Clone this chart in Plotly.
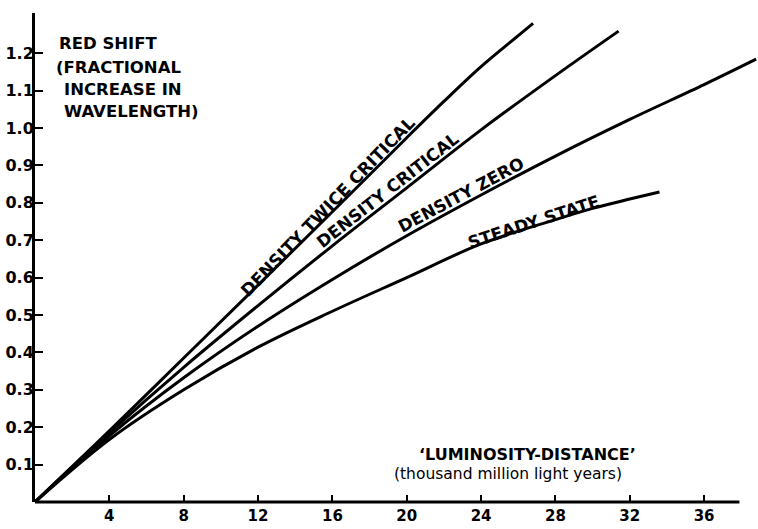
import plotly.graph_objects as go

# ---- data ----
tc_x = [0, 4, 8, 12, 16, 20, 22, 24, 26, 26.8]
tc_y = [0, 0.19, 0.385, 0.58, 0.776, 0.974, 1.071, 1.164, 1.247, 1.28]

cr_x = [0, 4, 8, 12, 16, 20, 24, 28, 31.4]
cr_y = [0, 0.185, 0.36, 0.525, 0.685, 0.84, 0.995, 1.14, 1.259]

ze_x = [0, 4, 8, 12, 16, 20, 24, 28, 32, 36, 38.8]
ze_y = [0, 0.177, 0.332, 0.47, 0.595, 0.712, 0.821, 0.925, 1.023, 1.116, 1.184]

ss_x = [0, 4, 8, 12, 16, 20, 24, 28, 30, 32, 33.6]
ss_y = [0, 0.167, 0.30, 0.414, 0.51, 0.60, 0.69, 0.755, 0.785, 0.81, 0.829]

x_ticks = [4, 8, 12, 16, 20, 24, 28, 32, 36]
x_tick_text = ["4", "8", "12", "16", "20", "24", "28", "32", "36"]
y_ticks = [0.1, 0.2, 0.3, 0.4, 0.5, 0.6, 0.7, 0.8, 0.9, 1.0, 1.1, 1.2]
y_tick_text = ["0.1", "0.2", "0.3", "0.4", "0.5", "0.6", "0.7", "0.8", "0.9", "1.0", "1.1", "1.2"]

curve_labels = ["DENSITY TWICE CRITICAL", "DENSITY CRITICAL", "DENSITY ZERO", "STEADY STATE"]

X_MAX = 38.9
Y_MAX = 1.3075
X_AXIS_END = 37.9

FONT = "DejaVu Sans"

fig = go.Figure()
for xs, ys in [(tc_x, tc_y), (cr_x, cr_y), (ze_x, ze_y), (ss_x, ss_y)]:
    fig.add_trace(go.Scatter(x=xs, y=ys, mode="lines",
                             line=dict(color="black", width=3, shape="spline", smoothing=1.0),
                             hoverinfo="skip", showlegend=False))

# x axis line drawn as a shape so it stops before the plot edge
fig.add_shape(type="line", xref="paper", yref="paper",
              x0=0, x1=X_AXIS_END / X_MAX, y0=0, y1=0,
              line=dict(color="black", width=3))

annots = []
label_pos = [(15.72, 0.79, -46), (18.98, 0.835, -38), (22.9, 0.822, -28), (26.8, 0.75, -18)]
for txt, (ax_, ay_, ang) in zip(curve_labels, label_pos):
    annots.append(dict(x=ax_, y=ay_, xref="x", yref="y", text=txt, showarrow=False,
                       textangle=ang, xanchor="center", yanchor="middle",
                       font=dict(family=FONT, size=17, color="black", weight="bold")))

ylab_lines = [("RED SHIFT", 1.18, 1.225), ("(FRACTIONAL", 1.02, 1.163),
              ("INCREASE IN", 1.45, 1.103), ("WAVELENGTH)", 1.45, 1.043)]
for txt, lx, ly in ylab_lines:
    annots.append(dict(x=lx, y=ly, xref="x", yref="y", text=txt, showarrow=False,
                       xanchor="left", yanchor="middle",
                       font=dict(family=FONT, size=16.5, color="black", weight="bold")))

annots.append(dict(x=26.5, y=0.126, xref="x", yref="y", text="\u2018LUMINOSITY-DISTANCE\u2019",
                   showarrow=False, xanchor="center", yanchor="middle",
                   font=dict(family=FONT, size=16, color="black", weight="bold")))
annots.append(dict(x=25.45, y=0.076, xref="x", yref="y", text="(thousand million light years)",
                   showarrow=False, xanchor="center", yanchor="middle",
                   font=dict(family=FONT, size=15.5, color="black")))

fig.update_layout(
    width=758, height=529,
    margin=dict(l=35, r=0, t=13, b=27),
    paper_bgcolor="white", plot_bgcolor="white",
    annotations=annots,
    xaxis=dict(range=[0, X_MAX], showgrid=False, zeroline=False, showline=False,
               automargin=False,
               tickmode="array", tickvals=x_ticks, ticktext=x_tick_text,
               ticks="inside", ticklen=7, tickwidth=2, tickcolor="black",
               ticklabelstandoff=3,
               tickfont=dict(family=FONT, size=15, color="black", weight="bold")),
    yaxis=dict(range=[0, Y_MAX], showgrid=False, zeroline=False, showline=True,
               automargin=False,
               linecolor="black", linewidth=3,
               tickmode="array", tickvals=y_ticks, ticktext=y_tick_text,
               ticks="inside", ticklen=8, tickwidth=2, tickcolor="black",
               ticklabelstandoff=-5,
               tickfont=dict(family=FONT, size=16, color="black", weight="bold")),
)

fig.write_html("out.html", config={"displayModeBar": False},
               post_script="document.body.style.margin='0';document.body.style.padding='0';")
